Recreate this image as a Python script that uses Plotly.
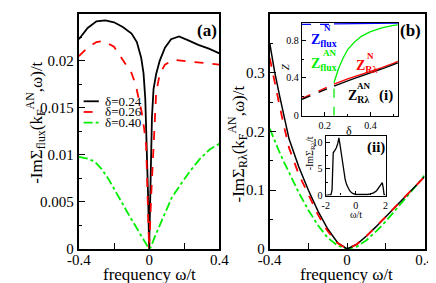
import plotly.graph_objects as go

W, H = 436, 283

# ---------------- data ----------------
# Panel (a): -Im Sigma_flux(k_F^AN, w)/t
w_a24 = [-0.4, -0.35, -0.3, -0.25, -0.2, -0.15, -0.1, -0.07, -0.045, -0.032, -0.022, -0.016, -0.011, -0.005, 0.0,
         0.005, 0.011, 0.016, 0.025, 0.04, 0.06, 0.09, 0.125, 0.17, 0.22, 0.28, 0.34, 0.4]
s_a24 = [0.0223, 0.0235, 0.0242, 0.0243, 0.0241, 0.0236, 0.0229, 0.0220, 0.0203, 0.0187, 0.0160, 0.0125, 0.0100, 0.0050, 0.0,
         0.0050, 0.0100, 0.0140, 0.0170, 0.0186, 0.0200, 0.0214, 0.0223, 0.0226, 0.0222, 0.0217, 0.0213, 0.0208]

w_a26 = [-0.4, -0.35, -0.3, -0.26, -0.2, -0.14, -0.1, -0.076, -0.055, -0.043, -0.03, -0.017, -0.009, 0.0,
         0.012, 0.025, 0.04, 0.06, 0.09, 0.14, 0.2, 0.25, 0.3, 0.35, 0.4]
s_a26 = [0.0205, 0.0214, 0.0220, 0.0221, 0.0215, 0.0199, 0.0187, 0.0174, 0.0158, 0.0146, 0.0130, 0.0110, 0.0058, 0.0,
         0.0058, 0.0115, 0.0166, 0.0186, 0.0196, 0.0201, 0.0200, 0.0199, 0.0198, 0.0197, 0.0196]

w_a40 = [-0.4, -0.35, -0.31, -0.27, -0.23, -0.195, -0.16, -0.124, -0.09, -0.07, -0.045, -0.022, -0.008, 0.0,
         0.01, 0.03, 0.076, 0.13, 0.184, 0.238, 0.29, 0.346, 0.4]
s_a40 = [0.0098, 0.0096, 0.0093, 0.0085, 0.0074, 0.0063, 0.0051, 0.0039, 0.0029, 0.0022, 0.0014, 0.0007, 0.0002, 0.0,
         0.0002, 0.0012, 0.0032, 0.0055, 0.0070, 0.0084, 0.0096, 0.0106, 0.0112]

# Panel (b): -Im Sigma_Rlambda(k_F^AN, w)/t
w_b = [-0.4, -0.375, -0.35, -0.325, -0.3, -0.25, -0.2, -0.15, -0.1, -0.05, 0.0,
       0.05, 0.1, 0.15, 0.2, 0.25, 0.3, 0.35, 0.4]
s_b24 = [0.350, 0.302, 0.262, 0.222, 0.187, 0.140, 0.100, 0.064, 0.034, 0.011, 0.0,
         0.008, 0.022, 0.038, 0.055, 0.072, 0.089, 0.106, 0.123]
s_b26 = [0.325, 0.282, 0.245, 0.207, 0.172, 0.127, 0.091, 0.058, 0.030, 0.010, 0.0,
         0.008, 0.022, 0.038, 0.055, 0.072, 0.089, 0.106, 0.123]
s_b40 = [0.205, 0.184, 0.165, 0.147, 0.130, 0.096, 0.066, 0.040, 0.019, 0.006, 0.0,
         0.004, 0.015, 0.030, 0.047, 0.066, 0.085, 0.105, 0.125]

legend_labels = ["δ=0.24", "δ=0.26", "δ=0.40"]

# Inset (i): Z vs doping
d_low = [0.1, 0.15, 0.2, 0.24]
d_high = [0.24, 0.26, 0.28, 0.3, 0.33, 0.36, 0.4, 0.45, 0.5, 0.52]
z_flux_n_low = [0.965, 0.965, 0.965, 0.965]
z_flux_n_high = [0.972, 0.973, 0.974, 0.975, 0.976, 0.977, 0.978, 0.979, 0.98, 0.98]
z_flux_an_gap_d = [0.24, 0.24]
z_flux_an_gap = [0.0, 0.35]
z_flux_an_high = [0.35, 0.50, 0.61, 0.70, 0.78, 0.84, 0.89, 0.93, 0.955, 0.96]
z_rl_n_low = [0.185, 0.24, 0.29, 0.335]
z_rl_n_high = [0.335, 0.355, 0.373, 0.39, 0.415, 0.437, 0.47, 0.51, 0.555, 0.575]
z_rl_an_low = [0.175, 0.225, 0.275, 0.315]
z_rl_an_high = [0.315, 0.335, 0.353, 0.37, 0.395, 0.418, 0.455, 0.495, 0.54, 0.56]

# Inset (ii): -Im Sigma_Rlambda / t over wide frequency range
w_ii = [-2.0, -1.8, -1.65, -1.58, -1.55, -1.5, -1.4, -1.3, -1.2, -1.12, -1.05, -1.0, -0.9, -0.8, -0.7,
        -0.6, -0.5, -0.4, -0.3, -0.2, 0.0, 0.4, 0.8, 1.0, 1.2, 1.4, 1.5, 1.6, 1.7, 1.78, 1.84, 1.9, 2.0]
s_ii = [0.05, 0.08, 0.15, 1.0, 7.6, 8.0, 8.4, 8.9, 9.7, 10.8, 9.6, 8.6, 6.6, 4.5, 3.0,
        2.0, 1.3, 0.9, 0.6, 0.4, 0.2, 0.15, 0.2, 0.3, 0.5, 0.9, 1.3, 1.8, 2.2, 2.4, 1.5, 0.2, 0.05]

# ---------------- helpers (layout only) ----------------
def X(px):
    return px / W

def Y(py):
    return 1 - py / H

FONT = "Liberation Serif, Times New Roman, DejaVu Serif, serif"
BLACK = "#000000"
RED = "#ff0000"
GREEN = "#00ee00"
BLUE = "#0000ff"

fig = go.Figure()

# panel (a)
fig.add_trace(go.Scatter(x=w_a24, y=s_a24, mode="lines", line=dict(color=BLACK, width=1.8),
                         xaxis="x", yaxis="y", showlegend=False))
fig.add_trace(go.Scatter(x=w_a26, y=s_a26, mode="lines", line=dict(color=RED, width=1.8, dash="dash"),
                         xaxis="x", yaxis="y", showlegend=False))
fig.add_trace(go.Scatter(x=w_a40, y=s_a40, mode="lines", line=dict(color=GREEN, width=1.8, dash="dashdot"),
                         xaxis="x", yaxis="y", showlegend=False))

# panel (b)
fig.add_trace(go.Scatter(x=w_b, y=s_b40, mode="lines", line=dict(color=GREEN, width=1.8, dash="dashdot"),
                         xaxis="x2", yaxis="y2", showlegend=False))
fig.add_trace(go.Scatter(x=w_b, y=s_b24, mode="lines", line=dict(color=BLACK, width=1.5),
                         xaxis="x2", yaxis="y2", showlegend=False))
fig.add_trace(go.Scatter(x=w_b, y=s_b26, mode="lines", line=dict(color=RED, width=1.8, dash="dash"),
                         xaxis="x2", yaxis="y2", showlegend=False))

# inset (i)
def inset_line(xs, ys, color, dash):
    fig.add_trace(go.Scatter(x=xs, y=ys, mode="lines", line=dict(color=color, width=1.3, dash=dash),
                             xaxis="x3", yaxis="y3", showlegend=False))

inset_line(d_low, z_flux_n_low, BLUE, "dash")
inset_line(d_high, z_flux_n_high, BLUE, "solid")
inset_line(z_flux_an_gap_d, z_flux_an_gap, GREEN, "dash")
inset_line(d_high, z_flux_an_high, GREEN, "solid")
inset_line(d_low, z_rl_n_low, RED, "dash")
inset_line(d_high, z_rl_n_high, RED, "solid")
inset_line(d_low, z_rl_an_low, BLACK, "dash")
inset_line(d_high, z_rl_an_high, BLACK, "solid")

# inset (ii)
fig.add_trace(go.Scatter(x=w_ii, y=s_ii, mode="lines", line=dict(color=BLACK, width=1.3),
                         xaxis="x4", yaxis="y4", showlegend=False))

tickfont = dict(family=FONT, size=15, color=BLACK)
smallfont = dict(family=FONT, size=10, color=BLACK)

def main_axis(**kw):
    d = dict(showline=True, linecolor=BLACK, linewidth=2, mirror=True, ticks="inside",
             ticklen=6, tickwidth=1, tickcolor=BLACK, showgrid=False, zeroline=False,
             tickfont=tickfont, fixedrange=True)
    d.update(kw)
    return d

def inset_axis(**kw):
    d = dict(showline=True, linecolor=BLACK, linewidth=1.3, mirror=True, ticks="inside",
             ticklen=4, tickwidth=1, tickcolor=BLACK, showgrid=False, zeroline=False,
             tickfont=smallfont, fixedrange=True)
    d.update(kw)
    return d

fig.update_layout(
    width=W, height=H,
    margin=dict(l=0, r=0, t=0, b=0),
    paper_bgcolor="white", plot_bgcolor="rgba(0,0,0,0)",
    showlegend=False,
    font=dict(family=FONT),
    xaxis=main_axis(domain=[X(62), X(210)], range=[-0.4, 0.4], anchor="y", ticklabelstandoff=-4,
                    tickvals=[-0.4, 0, 0.4], ticktext=["-0.4", "0", "0.4"],
                    minor=dict(tickvals=[-0.2, 0.2], ticks="inside", ticklen=6, tickcolor=BLACK)),
    yaxis=main_axis(domain=[Y(248), Y(6)], range=[0, 0.025], anchor="x",
                    tickvals=[0, 0.005, 0.01, 0.015, 0.02, 0.025],
                    ticktext=["0", "0.005", "0.01", "0.015", "0.02", "0.025"],
                    minor=dict(tickvals=[0.0025, 0.0075, 0.0125, 0.0175, 0.0225], ticks="inside",
                               ticklen=3, tickcolor=BLACK)),
    xaxis2=main_axis(domain=[X(263), X(426)], range=[-0.4, 0.4], anchor="y2", ticklabelstandoff=-4,
                     tickvals=[-0.4, 0, 0.4], ticktext=["-0.4", "0", "0.4"],
                     minor=dict(tickvals=[-0.2, 0.2], ticks="inside", ticklen=6, tickcolor=BLACK)),
    yaxis2=main_axis(domain=[Y(248), Y(6)], range=[0, 0.4], anchor="x2",
                     tickvals=[0, 0.1, 0.2, 0.3, 0.4], ticktext=["0", "0.1", "0.2", "0.3", "0.4"],
                     minor=dict(tickvals=[0.05, 0.15, 0.25, 0.35], ticks="inside", ticklen=3, tickcolor=BLACK)),
    xaxis3=inset_axis(domain=[X(297), X(398)], range=[0.1, 0.52], anchor="y3",
                      tickvals=[0.2, 0.4], ticktext=["0.2", "0.4"],
                      minor=dict(tickvals=[0.1, 0.3, 0.5], ticks="inside", ticklen=2, tickcolor=BLACK)),
    yaxis3=inset_axis(domain=[Y(111), Y(15)], range=[0, 0.985], anchor="x3",
                      tickvals=[0, 0.4, 0.8], ticktext=["0", "0.4", "0.8"],
                      minor=dict(tickvals=[0.2, 0.6], ticks="inside", ticklen=2, tickcolor=BLACK)),
    xaxis4=inset_axis(domain=[X(322), X(385)], range=[-2, 2], anchor="y4",
                      tickvals=[-2, 0, 2], ticktext=["-2", "0", "2"],
                      minor=dict(tickvals=[-1, 1], ticks="inside", ticklen=2, tickcolor=BLACK)),
    yaxis4=inset_axis(domain=[Y(193), Y(132)], range=[0, 11.1], anchor="x4",
                      tickvals=[0, 5, 10], ticktext=["0", "5", "10"],
                      minor=dict(tickvals=[2.5, 7.5], ticks="inside", ticklen=2, tickcolor=BLACK)),
)

ann = []

def text(x, y, s, size=14, color=BLACK, angle=0, xanchor="center", yanchor="middle"):
    ann.append(dict(x=X(x), y=Y(y), xref="paper", yref="paper", text=s, showarrow=False,
                    font=dict(family=FONT, size=size, color=color), textangle=angle,
                    xanchor=xanchor, yanchor=yanchor, borderpad=0))

# axis titles
text(136, 274, "frequency ω/t", size=17)
text(344, 274, "frequency ω/t", size=17)
text(17, 118, "-ImΣ<sub>flux</sub>(k<sub>F</sub><sup>AN</sup>,ω)/t", size=17, angle=-90)
text(229, 140, "-ImΣ<sub>Rλ</sub>(k<sub>F</sub><sup>AN</sup>,ω)/t", size=17, angle=-90)

# panel labels
text(197, 23, "<b>(a)</b>", size=17)
text(411, 23, "<b>(b)</b>", size=17)

# legend for panel (a)
legend_styles = [(BLACK, "solid"), (RED, "dash"), (GREEN, "dashdot")]
legend_rows = [96, 107, 118]
shapes = []
for (col, dash), row, lab in zip(legend_styles, legend_rows, legend_labels):
    shapes.append(dict(type="line", xref="paper", yref="paper", x0=X(67), x1=X(83), y0=Y(row), y1=Y(row),
                       line=dict(color=col, width=1.8, dash=dash)))
    text(88, row, lab, size=13, xanchor="left")

# inset (i) labels
text(279, 60, "<i>Z</i>", size=11, angle=-90)
text(347, 127, "δ", size=12)
text(320, 33, "<b>Z<sub>flux</sub></b>", size=14, color=BLUE)
text(324, 21, "<b>N</b>", size=9, color=BLUE)
text(320, 58, "<b>Z<sub>flux</sub></b>", size=14, color=GREEN)
text(326, 46, "<b>AN</b>", size=9, color=GREEN)
text(365, 60, "<b>Z<sub>Rλ</sub></b>", size=14, color=RED)
text(369, 49, "<b>N</b>", size=9, color=RED)
text(357, 91, "<b>Z<sub>Rλ</sub></b>", size=14, color=BLACK)
text(362, 80, "<b>AN</b>", size=9, color=BLACK)
text(385, 90, "<b>(i)</b>", size=15)

# inset (ii) labels
text(375, 144, "<b>(ii)</b>", size=15)
text(354, 212, "ω/t", size=10)
text(306, 150, "-ImΣ<sub>Rλ</sub>/t", size=10, angle=-90)

fig.update_layout(annotations=ann, shapes=shapes)

fig.write_html("out.html")
